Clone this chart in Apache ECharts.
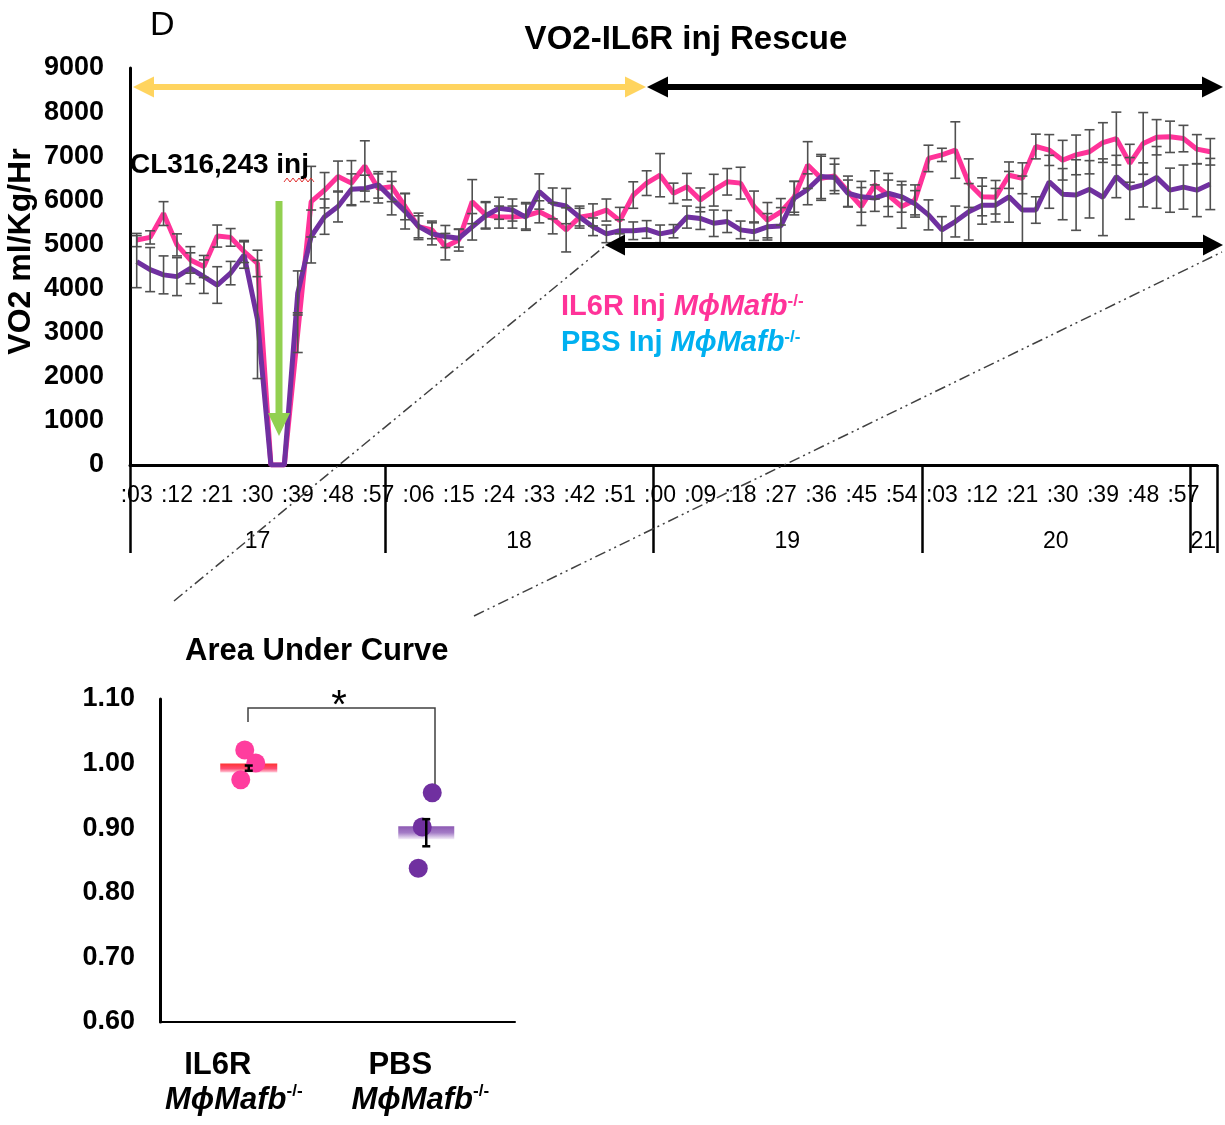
<!DOCTYPE html>
<html>
<head>
<meta charset="UTF-8">
<title>VO2-IL6R inj Rescue</title>
<style>
  * { margin: 0; padding: 0; }
  html, body { width: 100%; height: 100%; background: #fff; }
  #chart { width: 1225px; height: 1125px; }
</style>
</head>
<body>
<div id="chart"></div>
<script src="https://cdn.jsdelivr.net/npm/echarts@6/dist/echarts.min.js"></script>
<script>
// sampling bins (3 min), hour:minute
const timeCats = [
  '17:03', '17:06', '17:09', '17:12', '17:15', '17:18', '17:21', '17:24', '17:27', '17:30',
  '17:33', '17:36', '17:39', '17:42', '17:45', '17:48', '17:51', '17:54', '17:57',
  '18:00', '18:03', '18:06', '18:09', '18:12', '18:15', '18:18', '18:21', '18:24', '18:27',
  '18:30', '18:33', '18:36', '18:39', '18:42', '18:45', '18:48', '18:51', '18:54', '18:57',
  '19:00', '19:03', '19:06', '19:09', '19:12', '19:15', '19:18', '19:21', '19:24', '19:27',
  '19:30', '19:33', '19:36', '19:39', '19:42', '19:45', '19:48', '19:51', '19:54', '19:57',
  '20:00', '20:03', '20:06', '20:09', '20:12', '20:15', '20:18', '20:21', '20:24', '20:27',
  '20:30', '20:33', '20:36', '20:39', '20:42', '20:45', '20:48', '20:51', '20:54', '20:57',
  '21:00', '21:03'
];

// VO2 ml/Kg/Hr, mean per bin
const il6rVO2 = [
  5100, 5160, 5700, 4990, 4650, 4500, 5190, 5160, 4840, 4570,
  0, 0, 3000, 5970, 6230, 6540, 6390, 6780, 6270,
  6310, 5860, 5400, 5330, 4950, 5100, 5970, 5670, 5620, 5620,
  5650, 5740, 5590, 5330, 5620, 5670, 5780, 5540, 6120, 6390,
  6570, 6160, 6310, 6010, 6230, 6420, 6390, 5860, 5550, 5740,
  6080, 6800, 6500, 6550, 6200, 5860, 6350, 6120, 5860, 6010,
  6950, 7030, 7140, 6390, 6080, 6070, 6570, 6500, 7220, 7140,
  6910, 7030, 7100, 7310, 7400, 6840, 7290, 7430, 7440, 7400,
  7160, 7100
];
const pbsVO2 = [
  4610, 4430, 4310, 4270, 4460, 4270, 4080, 4350, 4760, 3300,
  0, 0, 3900, 5180, 5630, 5860, 6250, 6270, 6350,
  6050, 5750, 5410, 5240, 5180, 5140, 5400, 5650, 5820, 5780,
  5620, 6200, 5930, 5870, 5620, 5400, 5240, 5310, 5310, 5340,
  5240, 5300, 5620, 5590, 5480, 5520, 5330, 5290, 5400, 5420,
  6050, 6250, 6540, 6520, 6160, 6080, 6050, 6160, 6080, 5920,
  5670, 5330, 5520, 5740, 5890, 5890, 6080, 5780, 5780, 6420,
  6140, 6120, 6250, 6070, 6540, 6270, 6350, 6520, 6230, 6300,
  6230, 6370
];

// error bars (+/-)
const il6rErr = [
  150, 150, 270, 250, 300, 250, 250, 200, 250, 300,
  0, 0, 450, 800, 400, 350, 510, 570, 330,
  340, 300, 250, 200, 300, 250, 500, 300, 250, 250,
  300, 250, 350, 500, 250, 250, 250, 300, 300, 280,
  490, 230, 300, 270, 360, 300, 360, 350, 400, 300,
  350, 530, 500, 400, 350, 430, 320, 490, 490, 340,
  300, 150, 640, 550, 430, 380, 300, 350, 280, 350,
  450, 450, 500, 450, 600, 430, 700, 400, 355, 300,
  330, 300
];
const pbsErr = [
  590, 500, 430, 430, 350, 380, 415, 265, 300, 1340,
  0, 0, 500, 600, 400, 350, 350, 300, 300,
  380, 400, 300, 250, 250, 200, 300, 300, 250, 250,
  300, 400, 350, 400, 200, 200, 200, 250, 200, 200,
  200, 150, 250, 250, 300, 250, 200, 200, 300, 415,
  380, 350, 500, 300, 300, 350, 300, 300, 350, 300,
  340, 300, 350, 640, 430, 380, 575, 770, 300, 600,
  580, 800, 650, 870, 480, 700, 500, 700, 500, 500,
  600, 580
];

// area under curve
const aucGroups = ['IL6R', 'PBS'];
const il6rAuc = [1.021, 1.001, 0.975];
const pbsAuc = [0.955, 0.902, 0.838];
const aucMean = [0.993, 0.893];
const aucSem = [0.004, 0.021];

const FONT = '"Liberation Sans", Arial, Helvetica, sans-serif';
const PINK = '#FF3399';
const PURPLE = '#7030A0';
const CYAN = '#00B0F0';

// hour groups for the second axis row
const groups = [];
timeCats.forEach((t, i) => {
  const h = t.split(':')[0];
  const g = groups[groups.length - 1];
  if (g && g.hour === h) g.end = i; else groups.push({ hour: h, start: i, end: i });
});
const hourStarts = new Set(groups.map(g => g.start));
const hourMids = {};
groups.forEach(g => {
  const m = (g.start + g.end) / 2;
  hourMids[Math.floor(m)] = m % 1 !== 0;
});

function errorBars(vals, errs, xIdx, yIdx, color, lw, cap, z) {
  const data = [];
  vals.forEach((v, i) => {
    if (errs[i] > 0) data.push([i, v - errs[i], v + errs[i]]);
  });
  return {
    type: 'custom',
    xAxisIndex: xIdx,
    yAxisIndex: yIdx,
    z: z,
    silent: true,
    encode: { x: 0, y: [1, 2] },
    data: data,
    renderItem: (params, api) => {
      const top = api.coord([api.value(0), api.value(2)]);
      const bot = api.coord([api.value(0), api.value(1)]);
      const st = { stroke: color, lineWidth: lw };
      return {
        type: 'group',
        children: [
          { type: 'line', shape: { x1: top[0], y1: top[1], x2: bot[0], y2: bot[1] }, style: st },
          { type: 'line', shape: { x1: top[0] - cap, y1: top[1], x2: top[0] + cap, y2: top[1] }, style: st },
          { type: 'line', shape: { x1: bot[0] - cap, y1: bot[1], x2: bot[0] + cap, y2: bot[1] }, style: st }
        ]
      };
    }
  };
}

// horizontal double arrow
function hArrow(x1, x2, y, color, w, len, half) {
  return [
    { type: 'line', z: 100, shape: { x1: x1 + len - 2, y1: y, x2: x2 - len + 2, y2: y }, style: { stroke: color, lineWidth: w } },
    { type: 'polygon', z: 100, shape: { points: [[x1, y], [x1 + len, y - half], [x1 + len, y + half]] }, style: { fill: color } },
    { type: 'polygon', z: 100, shape: { points: [[x2, y], [x2 - len, y - half], [x2 - len, y + half]] }, style: { fill: color } }
  ];
}

function richLabel(weight, size, color) {
  return {
    a: { fontSize: size, fontWeight: weight, fill: color, fontFamily: FONT },
    b: { fontSize: size, fontWeight: 'bold', fontStyle: 'italic', fill: color, fontFamily: FONT },
    c: { fontSize: 17, fontWeight: 'bold', fill: color, fontFamily: FONT, verticalAlign: 'top' }
  };
}

const redGrad = new echarts.graphic.LinearGradient(0, 0, 0, 1, [
  { offset: 0, color: '#FF0000' }, { offset: 0.55, color: '#FF1F4F' }, { offset: 1, color: '#FFC8D8' }
]);
const purpleGrad = new echarts.graphic.LinearGradient(0, 0, 0, 1, [
  { offset: 0, color: '#7030A0' }, { offset: 0.5, color: '#8D5BB8' }, { offset: 1, color: '#F0E8F6' }
]);
const dotShift = [[-4, 7, -8], [6, -4, -8]];

const squiggle = [];
for (let k = 0; k <= 10; k++) squiggle.push([284 + k * 3, k % 2 ? 178 : 182]);

const option = {
  animation: false,
  backgroundColor: '#fff',
  textStyle: { fontFamily: FONT },
  grid: [
    { left: 130, top: 68, width: 1087, height: 397, outerBoundsMode: 'none' },
    { left: 160, top: 699, width: 355, height: 323, outerBoundsMode: 'none' }
  ],
  xAxis: [
    {
      type: 'category', gridIndex: 0, position: 'bottom', data: timeCats,
      axisLine: { onZero: false, lineStyle: { color: '#000', width: 3 } },
      axisTick: { show: false },
      axisLabel: {
        interval: 2, margin: 19, fontSize: 23, color: '#000',
        formatter: v => ':' + v.split(':')[1]
      },
      splitLine: { show: false }
    },
    {
      type: 'category', gridIndex: 0, position: 'bottom', data: timeCats,
      axisLine: { show: false, onZero: false },
      axisTick: {
        show: true, length: 88,
        interval: idx => hourStarts.has(idx),
        lineStyle: { color: '#000', width: 2.5 }
      },
      axisLabel: {
        margin: 65,
        interval: idx => idx in hourMids,
        formatter: (v, idx) => {
          const h = v.split(':')[0];
          return hourMids[idx] ? '{s|' + h + '}' : '{n|' + h + '}';
        },
        rich: {
          n: { fontSize: 23, color: '#000' },
          s: { fontSize: 23, color: '#000', padding: [0, 0, 0, 13] }
        }
      },
      splitLine: { show: false }
    },
    {
      type: 'category', gridIndex: 1, data: aucGroups,
      axisLine: { onZero: false, lineStyle: { color: '#000', width: 2 } },
      axisTick: { show: false },
      axisLabel: {
        interval: 0, margin: 26, color: '#000',
        formatter: (v, idx) => '{a' + idx + '|' + v + '}\n{b|MϕMafb}{c' + idx + '|-/-}',
        rich: {
          a0: { fontSize: 31, fontWeight: 'bold', lineHeight: 35, padding: [0, 62, 0, 0] },
          a1: { fontSize: 31, fontWeight: 'bold', lineHeight: 35, padding: [0, 52, 0, 0] },
          b: { fontSize: 31, fontWeight: 'bold', fontStyle: 'italic', lineHeight: 35 },
          c0: { fontSize: 17, fontWeight: 'bold', verticalAlign: 'top', lineHeight: 20, padding: [0, 30, 0, 0] },
          c1: { fontSize: 17, fontWeight: 'bold', verticalAlign: 'top', lineHeight: 20, padding: [0, 12, 0, 0] }
        }
      }
    }
  ],
  yAxis: [
    {
      type: 'value', gridIndex: 0, min: 0, max: 9000, interval: 1000,
      name: 'VO2 ml/Kg/Hr', nameLocation: 'middle', nameRotate: 90, nameGap: 93,
      nameMoveOverlap: false,
      nameTextStyle: { fontSize: 32, fontWeight: 'bold', color: '#000', padding: [0, 0, 0, 30] },
      axisLine: { show: true, lineStyle: { color: '#000', width: 3 } },
      axisTick: { show: false },
      splitLine: { show: false },
      axisLabel: { fontSize: 27, fontWeight: 'bold', color: '#000', margin: 26, formatter: v => String(v) }
    },
    {
      type: 'value', gridIndex: 1, min: 0.6, max: 1.1, interval: 0.1,
      axisLine: { show: true, lineStyle: { color: '#000', width: 3 } },
      axisTick: { show: false },
      splitLine: { show: false },
      axisLabel: { fontSize: 27, fontWeight: 'bold', color: '#000', margin: 25, formatter: v => v.toFixed(2) }
    }
  ],
  series: [
    {
      name: 'IL6R Inj', type: 'line', xAxisIndex: 0, yAxisIndex: 0, data: il6rVO2,
      symbol: 'none', showSymbol: false, z: 3,
      lineStyle: { color: PINK, width: 5 }, itemStyle: { color: PINK }
    },
    {
      name: 'PBS Inj', type: 'line', xAxisIndex: 0, yAxisIndex: 0, data: pbsVO2,
      symbol: 'none', showSymbol: false, z: 4,
      lineStyle: { color: PURPLE, width: 5 }, itemStyle: { color: PURPLE }
    },
    errorBars(il6rVO2, il6rErr, 0, 0, '#505050', 1.6, 5, 5),
    errorBars(pbsVO2, pbsErr, 0, 0, '#505050', 1.6, 5, 5),
    {
      type: 'scatter', xAxisIndex: 2, yAxisIndex: 1, z: 3, silent: true,
      symbol: 'rect',
      data: [
        { value: [0, aucMean[0]], symbolSize: [57, 9], itemStyle: { color: redGrad } },
        { value: [1, aucMean[1]], symbolSize: [56, 13], itemStyle: { color: purpleGrad } }
      ]
    },
    {
      type: 'scatter', xAxisIndex: 2, yAxisIndex: 1, z: 4, symbolSize: 19,
      itemStyle: { color: '#FF3D9E', opacity: 1 },
      data: il6rAuc.map((v, k) => ({ value: [0, v], symbolOffset: [dotShift[0][k], 0] }))
    },
    {
      type: 'scatter', xAxisIndex: 2, yAxisIndex: 1, z: 4, symbolSize: 19,
      itemStyle: { color: PURPLE, opacity: 1 },
      data: pbsAuc.map((v, k) => ({ value: [1, v], symbolOffset: [dotShift[1][k], 0] }))
    },
    errorBars(aucMean, aucSem, 2, 1, '#000', 2.5, 4, 6)
  ],
  graphic: [
    { type: 'text', z: 100, x: 150, y: 26, style: { text: 'D', fontSize: 34, fill: '#000', fontFamily: FONT, align: 'left', verticalAlign: 'middle' } },
    { type: 'text', z: 100, x: 686, y: 40, style: { text: 'VO2-IL6R inj Rescue', fontSize: 33, fontWeight: 'bold', fill: '#000', fontFamily: FONT, align: 'center', verticalAlign: 'middle' } },
    ...hArrow(133, 646, 87, '#FFD45F', 6, 21, 10.5),
    ...hArrow(647, 1223, 87, '#000', 6, 21, 10.5),
    ...hArrow(605, 1223, 245, '#000', 6, 20, 10.5),
    { type: 'text', z: 100, x: 130, y: 165, style: { text: 'CL316,243 inj', fontSize: 28, fontWeight: 'bold', fill: '#000', fontFamily: FONT, align: 'left', verticalAlign: 'middle' } },
    { type: 'polyline', z: 100, shape: { points: squiggle }, style: { stroke: '#E03030', lineWidth: 1, fill: null } },
    { type: 'line', z: 100, shape: { x1: 279, y1: 201, x2: 279, y2: 416 }, style: { stroke: '#92D050', lineWidth: 7 } },
    { type: 'polygon', z: 100, shape: { points: [[268, 413], [290, 413], [279, 436]] }, style: { fill: '#92D050' } },
    {
      type: 'text', z: 100, x: 561, y: 307,
      style: { text: '{a|IL6R Inj }{b|MϕMafb}{c|-/-}', rich: richLabel('bold', 29, PINK), align: 'left', verticalAlign: 'middle' }
    },
    {
      type: 'text', z: 100, x: 561, y: 343,
      style: { text: '{a|PBS Inj }{b|MϕMafb}{c|-/-}', rich: richLabel('bold', 29, CYAN), align: 'left', verticalAlign: 'middle' }
    },
    { type: 'line', z: 90, shape: { x1: 174, y1: 601, x2: 605, y2: 246 }, style: { stroke: '#404040', lineWidth: 1.5, lineDash: [11, 4, 2, 4, 2, 4] } },
    { type: 'line', z: 90, shape: { x1: 474, y1: 616, x2: 1222, y2: 252 }, style: { stroke: '#404040', lineWidth: 1.5, lineDash: [11, 4, 2, 4, 2, 4] } },
    { type: 'text', z: 100, x: 185, y: 651, style: { text: 'Area Under Curve', fontSize: 31, fontWeight: 'bold', fill: '#000', fontFamily: FONT, align: 'left', verticalAlign: 'middle' } },
    { type: 'polyline', z: 100, shape: { points: [[248, 722], [248, 708], [435, 708], [435, 784]] }, style: { stroke: '#404040', lineWidth: 1.5, fill: null } },
    { type: 'text', z: 100, x: 339, y: 707, style: { text: '*', fontSize: 40, fill: '#000', fontFamily: FONT, align: 'center', verticalAlign: 'middle' } }
  ]
};

const chart = echarts.init(document.getElementById('chart'));
chart.setOption(option);
</script>
</body>
</html>
